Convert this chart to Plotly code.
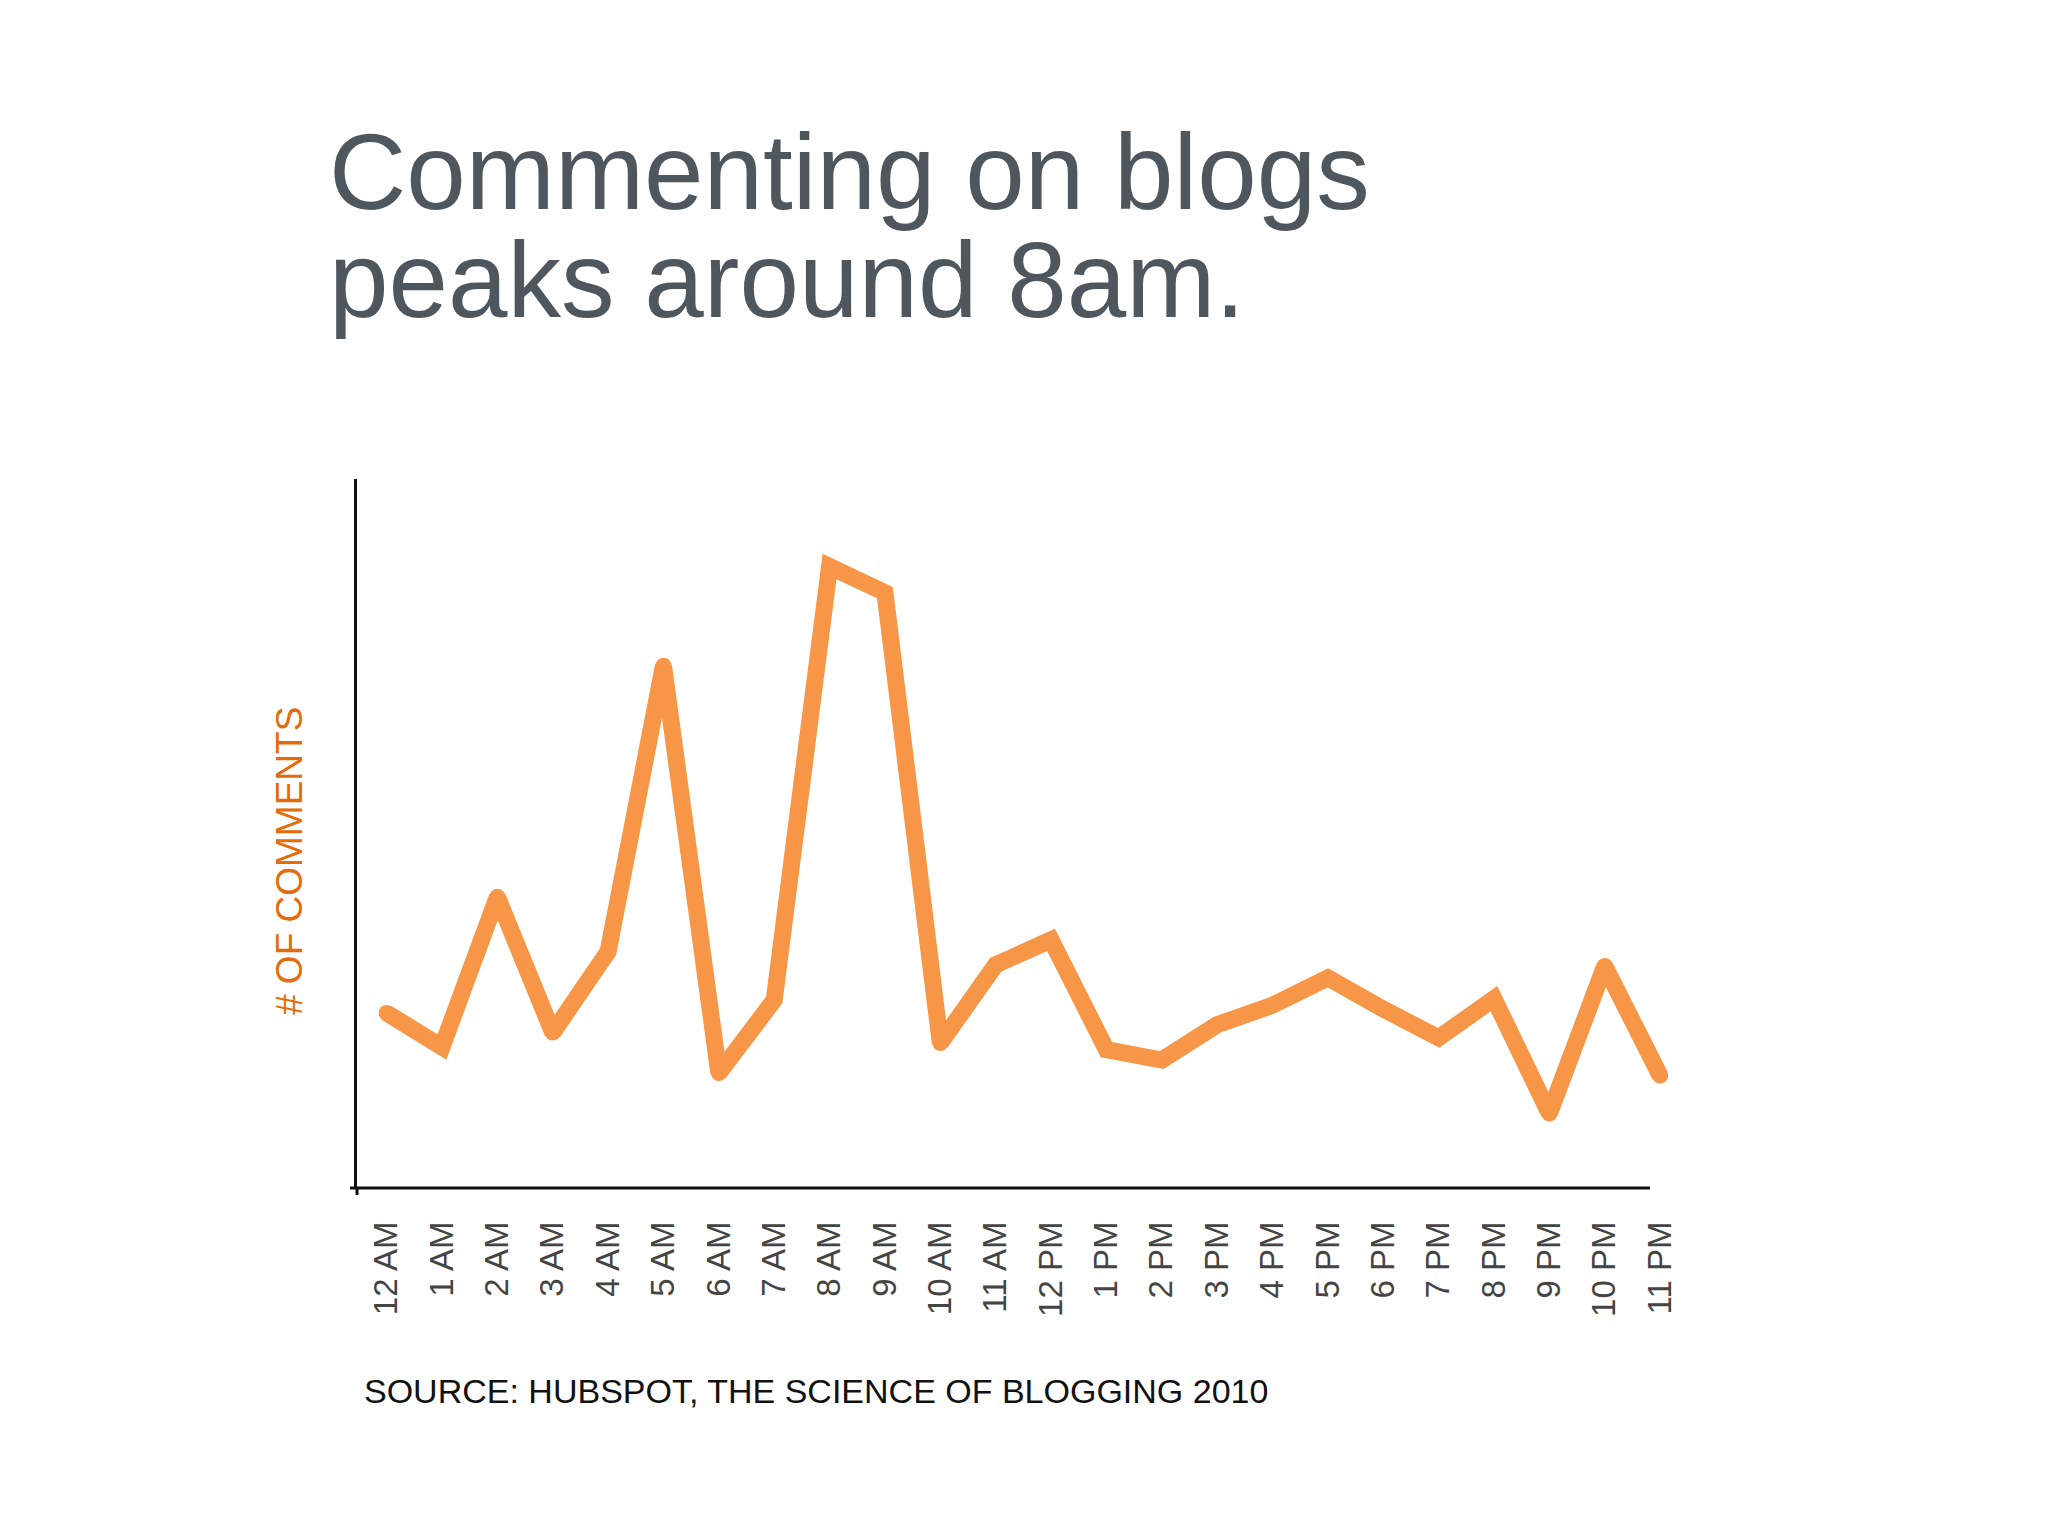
import plotly.graph_objects as go

# hours of the day
hours = ["12 AM", "1 AM", "2 AM", "3 AM", "4 AM", "5 AM", "6 AM", "7 AM", "8 AM",
         "9 AM", "10 AM", "11 AM", "12 PM", "1 PM", "2 PM", "3 PM", "4 PM", "5 PM",
         "6 PM", "7 PM", "8 PM", "9 PM", "10 PM", "11 PM"]

# relative number of comments (no scale given)
comments = [134, 108, 223, 119, 181, 400, 88, 144, 476, 456, 111, 171,
            190, 106, 98, 125, 140, 161, 137, 115, 145, 57, 170, 86]

y_top = 543

#%% figure

W, H = 2048, 1536
OFF = 8  # page body margin of the browser
L, R, T, B = 349, 356, 471, 356
pw, ph = W - L - R, H - T - B


def px(x):
    return (x - OFF - L) / pw


def py(y):
    return (H - B - (y - OFF)) / ph


fig = go.Figure()
fig.add_trace(go.Scatter(x=list(range(len(hours))), y=comments, mode="lines+markers",
                         line=dict(color="#F79646", width=17),
                         marker=dict(color="#F79646", size=16, line=dict(width=0)),
                         hoverinfo="skip", showlegend=False))

fig.update_layout(
    width=W, height=H,
    margin=dict(l=L, r=R, t=T, b=B),
    paper_bgcolor="white", plot_bgcolor="white",
    font=dict(family="Liberation Sans, Arial, sans-serif"),
    xaxis=dict(range=[(357 - 386.6) / 55.37, (1700 - 386.6) / 55.37],
               tickvals=list(range(len(hours))), ticktext=hours,
               tickangle=-90, ticks="", showgrid=False, zeroline=False,
               showline=False, ticklabelstandoff=26,
               tickfont=dict(size=33, color="#444444")),
    yaxis=dict(range=[0, y_top], showticklabels=False, ticks="",
               showgrid=False, zeroline=False,
               showline=True, linecolor="#111111", linewidth=3),
)

# x axis line stops short of the last point
fig.add_shape(type="line", xref="paper", yref="paper",
              x0=px(350), x1=px(1650), y0=0, y1=0,
              line=dict(color="#111111", width=3))
fig.add_shape(type="line", xref="paper", yref="paper",
              x0=0, x1=0, y0=py(1195), y1=0,
              line=dict(color="#111111", width=3))

fig.add_annotation(text="Commenting on blogs", xref="paper", yref="paper",
                   x=px(327), y=py(172), xanchor="left", yanchor="middle",
                   showarrow=False, font=dict(size=107, color="#4F575E"))
fig.add_annotation(text="peaks around 8am.", xref="paper", yref="paper",
                   x=px(327), y=py(280), xanchor="left", yanchor="middle",
                   showarrow=False, font=dict(size=107, color="#4F575E"))
fig.add_annotation(text="# OF COMMENTS", xref="paper", yref="paper",
                   x=px(289), y=py(861), textangle=-90,
                   xanchor="center", yanchor="middle",
                   showarrow=False, font=dict(size=37, color="#E46C0A"))
fig.add_annotation(text="SOURCE: HUBSPOT, THE SCIENCE OF BLOGGING 2010",
                   xref="paper", yref="paper",
                   x=px(362), y=py(1391), xanchor="left", yanchor="middle",
                   showarrow=False, font=dict(size=34, color="#111111"))

fig.write_html("out.html")
